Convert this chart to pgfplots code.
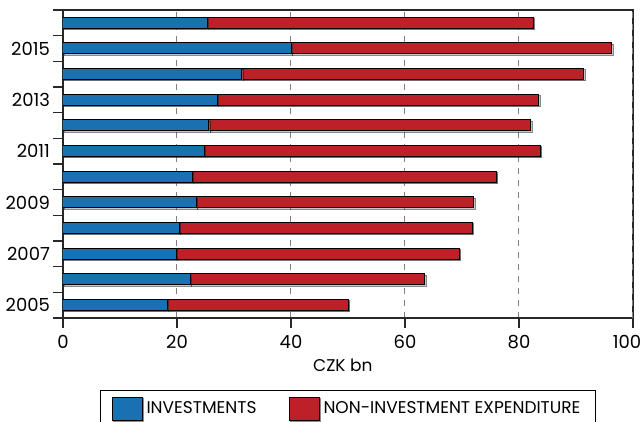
\documentclass[border=0pt]{standalone}
\usepackage{fontspec}
\setmainfont{Poppins}
\usepackage{pgfplots}
\pgfplotsset{compat=1.18}
\usetikzlibrary{shadows}
\definecolor{invblue}{RGB}{24,114,178}
\definecolor{nonred}{RGB}{190,32,39}
\definecolor{axisgray}{RGB}{40,40,40}
\begin{document}
\begin{tikzpicture}
\begin{axis}[
  scale only axis,
  width=285pt, height=154pt,
  xbar stacked,
  bar width=5.5pt,
  xmin=0, xmax=100,
  ymin=2004.5, ymax=2016.5,
  xtick={0,20,40,60,80},
  extra x ticks={100},
  extra x tick style={xticklabel style={xshift=-3pt}},
  ytick={2004.5,2005.5,...,2016.5},
  yticklabels={},
  extra y ticks={2005,2007,2009,2011,2013,2015},
  extra y tick style={major tick length=0pt,
    yticklabel style={/pgf/number format/1000 sep={}, xshift=-3pt}},
  /pgf/number format/assume math mode=true,
  major tick length=5pt,
  tick align=outside,
  tick style={axisgray, line width=0.7pt},
  xtick pos=bottom, ytick pos=left,
  axis line style={axisgray, line width=0.8pt},
  xmajorgrids,
  grid style={dashed, gray, line width=0.5pt},
  ticklabel style={font=\fontsize{9}{10}\selectfont, text=black},
  xlabel={CZK bn},
  xlabel style={font=\fontsize{8.5}{10}\selectfont,
    at={(axis description cs:0.491,-0.1526)}, anchor=center},
  legend style={at={(0.5,-0.2338)}, anchor=north, legend columns=2,
    draw=black, line width=0.6pt, font=\fontsize{8.5}{10}\selectfont,
    /tikz/every even column/.append style={column sep=14pt},
    inner xsep=5.5pt, inner ysep=3pt},
  legend image code/.code={\draw[#1, line width=0.5pt] (0pt,-5.75pt) rectangle (15pt,5.75pt);},
  every axis plot/.append style={draw=black, line width=0.5pt,
    drop shadow={shadow xshift=0.6pt, shadow yshift=-0.6pt, opacity=0.45}},
]
\addplot[fill=invblue] coordinates {
(18.3,2005) (22.4,2006) (19.9,2007) (20.4,2008) (23.4,2009) (22.7,2010)
(24.8,2011) (25.6,2012) (27.1,2013) (31.4,2014) (40.1,2015) (25.4,2016)};
\addplot[fill=nonred] coordinates {
(31.8,2005) (41.1,2006) (49.7,2007) (51.4,2008) (48.7,2009) (53.4,2010)
(59.0,2011) (56.5,2012) (56.4,2013) (60.0,2014) (56.2,2015) (57.1,2016)};
\legend{INVESTMENTS, NON-INVESTMENT EXPENDITURE}
\end{axis}
\pgfresetboundingbox
\useasboundingbox (-31.5pt,-52pt) rectangle (290.5pt,159pt);
\end{tikzpicture}
\end{document}
